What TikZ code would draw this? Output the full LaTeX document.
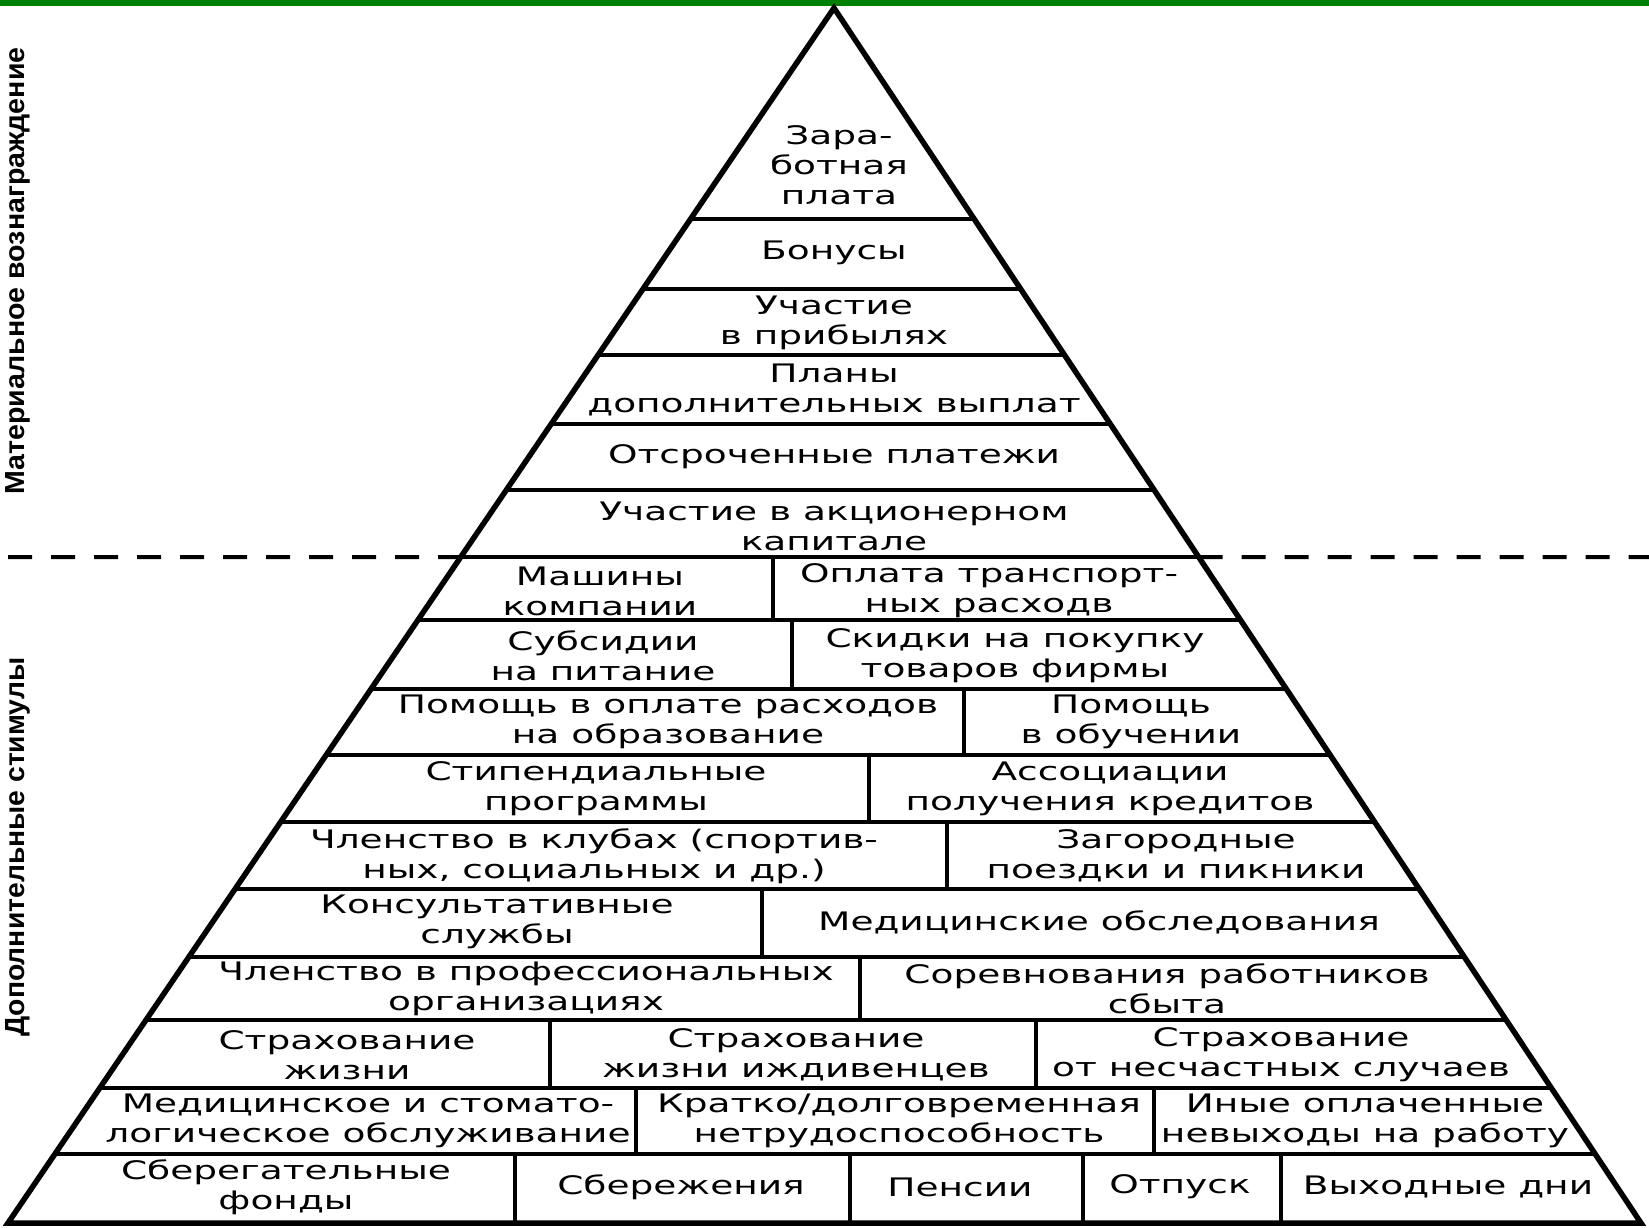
\documentclass[tikz,border=0pt]{standalone}
\usepackage{fontspec}
\usepackage{graphicx}
\newfontfamily\pyrfam[FakeStretch=1.47]{DejaVu Sans}
\newfontfamily\labfam{Liberation Sans}
\newcommand\pyrfont{\fontsize{25.5}{30}\selectfont\pyrfam}
\usetikzlibrary{calc}
\definecolor{topgreen}{RGB}{0,128,0}
\tikzset{
  edgeline/.style={line width=5.5pt, line join=miter},
  rowline/.style={line width=3.5pt},
  divline/.style={line width=4pt},
  cell/.style={font=\pyrfont, align=center, inner sep=0pt},
  side/.style={rotate=90, anchor=base, inner sep=0pt},
  sepline/.style={line width=4pt, dash pattern=on 24pt off 19pt}
}
\begin{document}
\begin{tikzpicture}[x=1pt,y=-1pt]
\useasboundingbox (0,0) rectangle (1649,1227);
\fill[white] (0,0) rectangle (1649,1227);
\fill[topgreen] (0,0) rectangle (1649,6);
\coordinate (A) at (834,8);
\coordinate (BL) at (8,1223);
\coordinate (BR) at (1641,1223);
% row lines
\foreach \yy [count=\i] in {219,289,355,424,490,557,620,689,755,822,889,957,1020,1088,1154}{
  \pgfmathsetmacro\rowt{(\yy-8)/1215}
  \draw[rowline] ($(A)!\rowt!(BL)$) coordinate (L\i) -- ($(A)!\rowt!(BR)$) coordinate (R\i);
}
% pyramid outline
\draw[edgeline] (A) -- (BL) -- (BR) -- cycle;
% dashed separator
\draw[sepline] (8,557) -- (L6);
\draw[sepline] (R6) -- (1649,557);
% dividers
\draw[divline] (773,557) -- (773,620);
\draw[divline] (792,620) -- (792,689);
\draw[divline] (964,689) -- (964,755);
\draw[divline] (869,755) -- (869,822);
\draw[divline] (947,822) -- (947,889);
\draw[divline] (762,889) -- (762,957);
\draw[divline] (860,957) -- (860,1020);
\draw[divline] (550,1020) -- (550,1088);
\draw[divline] (1036,1020) -- (1036,1088);
\draw[divline] (636,1088) -- (636,1154);
\draw[divline] (1154,1088) -- (1154,1154);
\draw[divline] (515,1154) -- (515,1223);
\draw[divline] (850,1154) -- (850,1223);
\draw[divline] (1083,1154) -- (1083,1223);
\draw[divline] (1281,1154) -- (1281,1223);
% texts
\node[cell] (r1) at (839,165) {Зара-\\ботная\\плата};
\node[cell] (r2) at (834,253) {Бонусы};
\node[cell] (r3) at (834,323) {Участие\\в прибылях};
\node[cell] (r4) at (834,390) {Планы\\дополнительных выплат};
\node[cell] (r5) at (834,457) {Отсроченные платежи};
\node[cell] (r6) at (834,526) {Участие в акционерном\\капитале};
\node[cell] (r7a) at (600,591) {Машины\\компании};
\node[cell] (r7b) at (989,591) {Оплата транспорт-\\ных расходв};
\node[cell] (r8a) at (603,656) {Субсидии\\на питание};
\node[cell] (r8b) at (1015,656) {Скидки на покупку\\товаров фирмы};
\node[cell] (r9a) at (668,722) {Помощь в оплате расходов\\на образование};
\node[cell] (r9b) at (1131,722) {Помощь\\в обучении};
\node[cell] (r10a) at (596,789) {Стипендиальные\\программы};
\node[cell] (r10b) at (1110,789) {Ассоциации\\получения кредитов};
\node[cell] (r11a) at (594,856) {Членство в клубах (спортив-\\ных, социальных и др.)};
\node[cell] (r11b) at (1176,856) {Загородные\\поездки и пикники};
\node[cell] (r12a) at (497,922) {Консультативные\\службы};
\node[cell] (r12b) at (1099,922) {Медицинские обследования};
\node[cell] (r13a) at (526,989) {Членство в профессиональных\\организациях};
\node[cell] (r13b) at (1167,989) {Соревнования работников\\сбыта};
\node[cell] (r14a) at (347,1055) {Страхование\\жизни};
\node[cell] (r14b) at (796,1055) {Страхование\\жизни иждивенцев};
\node[cell] (r14c) at (1281,1055) {Страхование\\от несчастных случаев};
\node[cell] (r15a) at (368,1121) {Медицинское и стомато-\\логическое обслуживание};
\node[cell] (r15b) at (899,1121) {Кратко/долговременная\\нетрудоспособность};
\node[cell] (r15c) at (1365,1121) {Иные оплаченные\\невыходы на работу};
\node[cell] (r16a) at (286,1187) {Сберегательные\\фонды};
\node[cell] (r16b) at (681,1187) {Сбережения};
\node[cell] (r16c) at (960,1187) {Пенсии};
\node[cell] (r16d) at (1180,1187) {Отпуск};
\node[cell] (r16e) at (1448,1187) {Выходные дни};
% side labels
\node[side] (mat) at (24,271) {\resizebox{447pt}{19pt}{\labfam\bfseries Материальное вознаграждение}};
\node[side] (dop) at (24,847) {\resizebox{379pt}{19pt}{\labfam\bfseries Дополнительные стимулы}};
\end{tikzpicture}
\end{document}
